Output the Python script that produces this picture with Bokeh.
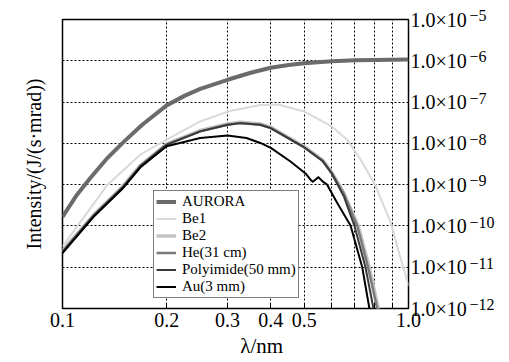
from bokeh.plotting import figure
from bokeh.models import (LogAxis, FixedTicker, CustomJSTickFormatter, Legend,
                          LegendItem, Range1d)
from bokeh.embed import file_html
from bokeh.resources import INLINE

# ---------------- data (wavelength in nm, intensity as log10 J/(s·mrad)) -------------
aurora_wl = [0.1, 0.11, 0.12, 0.135, 0.15, 0.17, 0.2, 0.225, 0.25, 0.3, 0.35, 0.4, 0.45, 0.5, 0.6, 0.7, 0.8, 1.0]
aurora_log = [-9.78, -9.25, -8.85, -8.35, -7.97, -7.55, -7.08, -6.85, -6.68, -6.46, -6.29, -6.17, -6.1, -6.06, -6.01, -5.99, -5.98, -5.97]

be1_wl = [0.1, 0.135, 0.168, 0.2, 0.25, 0.3, 0.373, 0.42, 0.5, 0.6, 0.665, 0.727, 0.8, 0.887, 0.95, 1.0]
be1_log = [-10.5, -9.0, -8.27, -7.91, -7.47, -7.23, -7.07, -7.06, -7.23, -7.59, -7.91, -8.39, -9.0, -9.9, -10.8, -11.45]

be2_wl = [0.1, 0.123, 0.149, 0.168, 0.2, 0.25, 0.3, 0.326, 0.373, 0.4, 0.5, 0.564, 0.6, 0.65, 0.716, 0.77, 0.818, 0.835]
be2_log = [-10.6, -9.73, -9.05, -8.53, -8.01, -7.69, -7.53, -7.49, -7.53, -7.61, -8.08, -8.4, -8.7, -9.2, -10.0, -11.0, -12.0, -12.4]

he_wl = [0.1, 0.123, 0.149, 0.168, 0.2, 0.25, 0.3, 0.326, 0.373, 0.4, 0.5, 0.564, 0.6, 0.65, 0.711, 0.764, 0.812, 0.83]
he_log = [-10.63, -9.75, -9.07, -8.55, -8.03, -7.71, -7.55, -7.51, -7.55, -7.63, -8.1, -8.42, -8.72, -9.22, -10.0, -11.0, -12.0, -12.4]

pi_wl = [0.1, 0.123, 0.149, 0.168, 0.2, 0.25, 0.3, 0.326, 0.373, 0.4, 0.5, 0.564, 0.6, 0.65, 0.698, 0.751, 0.792, 0.81]
pi_log = [-10.63, -9.75, -9.07, -8.55, -8.03, -7.71, -7.55, -7.51, -7.55, -7.63, -8.1, -8.42, -8.73, -9.28, -10.0, -11.0, -12.0, -12.4]

au_wl = [0.1, 0.123, 0.149, 0.168, 0.2, 0.25, 0.3, 0.34, 0.373, 0.4, 0.456, 0.504, 0.521, 0.529, 0.549, 0.568, 0.582, 0.623, 0.68, 0.735, 0.771, 0.785]
au_log = [-10.66, -9.78, -9.1, -8.58, -8.07, -7.87, -7.81, -7.87, -7.99, -8.11, -8.44, -8.73, -8.88, -8.93, -8.82, -8.94, -9.0, -9.45, -9.99, -11.0, -12.0, -12.4]

x_ticks = [0.1, 0.2, 0.3, 0.4, 0.5, 0.6, 0.7, 0.8, 0.9, 1.0]
x_tick_labels = ["0.1", "0.2", "0.3", "0.4", "0.5", "", "", "", "", "1.0"]
y_ticks = [1e-12, 1e-11, 1e-10, 1e-9, 1e-8, 1e-7, 1e-6, 1e-5]
y_tick_base = "1.0×10"
y_tick_exponents = ["−12", "−11", "−10", "−9", "−8", "−7", "−6", "−5"]

series_names = ["AURORA", "Be1", "Be2", "He(31 cm)", "Polyimide(50 mm)", "Au(3 mm)"]

x_lo, x_hi = 0.1, 1.0
y_lo, y_hi = 1e-12, 1e-5

FONT = "Liberation Serif"


def lin(vals):
    return [10 ** v for v in vals]


p = figure(width=508, height=360, x_axis_type="log", y_axis_type="log",
           x_range=Range1d(x_lo, x_hi), y_range=Range1d(y_lo, y_hi),
           output_backend="svg", toolbar_location=None,
           min_border_left=62, min_border_right=100, min_border_top=19,
           min_border_bottom=50, background_fill_color="white",
           border_fill_color="white")

p.outline_line_color = "black"
p.outline_line_width = 1.5

# grids
for g, tk in ((p.xgrid[0], x_ticks), (p.ygrid[0], y_ticks)):
    g.ticker = FixedTicker(ticks=tk)
    g.grid_line_color = "black"
    g.grid_line_dash = "2 2"
    g.grid_line_width = 1
    g.grid_line_alpha = 1.0

# bottom axis
xa = p.xaxis[0]
xa.ticker = FixedTicker(ticks=x_ticks)
xa.formatter = CustomJSTickFormatter(
    args=dict(xt=x_ticks, xl=x_tick_labels),
    code="""
    const i = xt.findIndex(t => Math.abs(t - tick) < 1e-9);
    return i >= 0 ? xl[i] : "";
    """)
xa.axis_line_color = None
xa.major_tick_in = 5
xa.major_tick_out = 0
xa.major_tick_line_color = "black"
xa.minor_tick_line_color = None
xa.major_label_standoff = 4
xa.major_label_text_font = FONT
xa.major_label_text_font_size = "20px"
xa.major_label_text_color = "black"
xa.axis_label = "\u00a0" * 10 + "λ/nm"
xa.axis_label_text_font = FONT
xa.axis_label_text_font_size = "21px"
xa.axis_label_text_font_style = "normal"
xa.axis_label_text_color = "black"
xa.axis_label_standoff = 4

# left axis (label only)
ya = p.yaxis[0]
ya.ticker = FixedTicker(ticks=y_ticks)
ya.formatter = CustomJSTickFormatter(code="return '';")
ya.axis_line_color = None
ya.major_tick_in = 0
ya.major_tick_out = 0
ya.minor_tick_line_color = None
ya.major_label_standoff = 0
ya.axis_label = "Intensity/(J/(s·mrad))"
ya.axis_label_text_font = FONT
ya.axis_label_text_font_size = "20px"
ya.axis_label_text_font_style = "normal"
ya.axis_label_text_color = "black"
ya.axis_label_standoff = 18

# right axis with "1.0×10" labels
ra = LogAxis(ticker=FixedTicker(ticks=y_ticks),
             formatter=CustomJSTickFormatter(args=dict(base=y_tick_base), code="return base;"))
ra.axis_line_color = None
ra.major_tick_in = 0
ra.major_tick_out = 0
ra.minor_tick_line_color = None
ra.major_label_standoff = 2
ra.major_label_text_font = FONT
ra.major_label_text_font_size = "20px"
ra.major_label_text_color = "black"
p.add_layout(ra, "right")

# second right axis: the raised exponents (2-line label, the empty 2nd line lifts the 1st)
ra2 = LogAxis(ticker=FixedTicker(ticks=y_ticks),
              formatter=CustomJSTickFormatter(
                  args=dict(yt=y_ticks, ye=y_tick_exponents),
                  code="""
    const i = yt.findIndex(t => Math.abs(Math.log10(t) - Math.log10(tick)) < 1e-6);
    return (i >= 0 ? ye[i] : "") + "\\n\\u00a0";
    """))
ra2.axis_line_color = None
ra2.major_tick_in = 0
ra2.major_tick_out = 0
ra2.minor_tick_line_color = None
ra2.major_label_standoff = 0
ra2.major_label_text_font = FONT
ra2.major_label_text_font_size = "16px"
ra2.major_label_text_line_height = 0.45
ra2.major_label_text_color = "black"
p.add_layout(ra2, "right")

# curves (drawing order: back to front)
r_be2 = p.line(be2_wl, lin(be2_log), line_color="#c4c4c4", line_width=3.5, line_join="round")
r_be1 = p.line(be1_wl, lin(be1_log), line_color="#d9d9d9", line_width=2, line_join="round")
r_he = p.line(he_wl, lin(he_log), line_color="#7a7a7a", line_width=2.5, line_join="round")
r_pi = p.line(pi_wl, lin(pi_log), line_color="#3a3a3a", line_width=2, line_join="round")
r_au = p.line(au_wl, lin(au_log), line_color="#000000", line_width=2, line_join="round")
r_aurora = p.line(aurora_wl, lin(aurora_log), line_color="#6b6b6b", line_width=4, line_join="round")

renderers = [r_aurora, r_be1, r_be2, r_he, r_pi, r_au]
legend = Legend(items=[LegendItem(label=n, renderers=[r]) for n, r in zip(series_names, renderers)],
                location=(91, 10), orientation="vertical",
                border_line_color="black", border_line_width=1.5,
                background_fill_color="white", background_fill_alpha=1.0,
                label_text_font=FONT, label_text_font_size="15px",
                label_text_color="black",
                glyph_width=20, glyph_height=15, label_height=15,
                label_standoff=6, padding=2, spacing=0, margin=0)
p.add_layout(legend)

open("out.html", "w").write(file_html(p, INLINE))
